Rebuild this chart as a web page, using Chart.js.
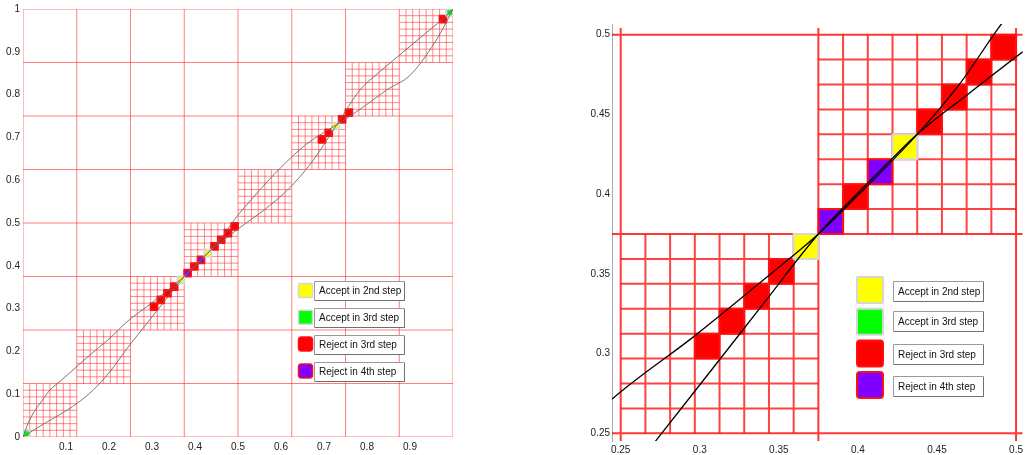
<!DOCTYPE html>
<html>
<head>
<meta charset="utf-8">
<script src="https://cdn.jsdelivr.net/npm/chart.js@4.4.1/dist/chart.umd.min.js"></script>
<style>
  html, body { margin: 0; padding: 0; background: #fff; overflow: hidden; width: 1026px; height: 455px; }
  #left  { position: absolute; left: 0;     top: 0; width: 460px; height: 455px; }
  #right { position: absolute; left: 560px; top: 0; width: 466px; height: 455px; }
</style>
</head>
<body>
<div id="left"><canvas id="overview"></canvas></div>
<div id="right"><canvas id="zoomed"></canvas></div>
<script>
// ---- subdivision of the unit square ----
const coarseLevels = [0, 0.125, 0.25, 0.375, 0.5, 0.625, 0.75, 0.875, 1];
const fineSteps = 8;          // every diagonal box is split 8 x 8
const fineStep = 1 / 64;      // size of one fine cell
const zoomBoxes = [0.25, 0.375]; // lower-left corners of the boxes refined in the zoom view

// ---- diagonal fine cells (index k covers [k/64, (k+1)/64]^2) ----
const accept2 = [23, 27, 46];
const accept3 = [0, 63];
const reject3 = [19, 20, 21, 22, 25, 28, 29, 30, 31, 44, 45, 47, 48, 62];
const reject4 = [24, 26];

// ---- the two curves ----
const curveAx = [0, 0.012, 0.024, 0.045, 0.063, 0.086, 0.109, 0.15, 0.2, 0.2444, 0.2974, 0.34, 0.375, 0.40, 0.42, 0.4375, 0.465, 0.491, 0.54, 0.598, 0.66, 0.73, 0.79, 0.846, 0.90, 0.95, 0.977, 1];
const curveAy = [0, 0.032, 0.056, 0.086, 0.110, 0.130, 0.150, 0.187, 0.229, 0.2714, 0.3116, 0.346, 0.375, 0.3993, 0.4193, 0.4375, 0.470, 0.507, 0.565, 0.628, 0.685, 0.73, 0.77, 0.811, 0.845, 0.91, 0.955, 1];
const curveBx = [0, 0.047, 0.085, 0.125, 0.1635, 0.2, 0.2444, 0.2724, 0.31, 0.34, 0.375, 0.40, 0.42, 0.4375, 0.47, 0.5047, 0.56, 0.615, 0.67, 0.73, 0.784, 0.83, 0.90, 0.95, 0.977, 1];
const curveBy = [0, 0.030, 0.052, 0.078, 0.110, 0.150, 0.210, 0.2456, 0.293, 0.331, 0.375, 0.4007, 0.4207, 0.4375, 0.463, 0.4896, 0.530, 0.577, 0.64, 0.73, 0.811, 0.8535, 0.913, 0.955, 0.977, 1];

// ---- tick labels ----
const overviewXTicks = [0.1, 0.2, 0.3, 0.4, 0.5, 0.6, 0.7, 0.8, 0.9];
const overviewYTicks = [0, 0.1, 0.2, 0.3, 0.4, 0.5, 0.6, 0.7, 0.8, 0.9, 1];
const zoomTicks = [0.25, 0.3, 0.35, 0.4, 0.45, 0.5];

// ---- legend ----
const legendLabels = ['Accept in 2nd step', 'Accept in 3rd step', 'Reject in 3rd step', 'Reject in 4th step'];

// ---- styles ----
const FONT = '"Liberation Sans", Arial, Helvetica, sans-serif';
const cellStyles = [
  { cells: accept2, fill: '#ffff00', edge: '#d6d6d6' },
  { cells: accept3, fill: '#00ff00', edge: '#d6d6d6' },
  { cells: reject3, fill: '#ff0000', edge: '#ff1010' },
  { cells: reject4, fill: '#8000ff', edge: '#ff1010' }
];
const ZOOM_X = [0.2445, 0.5042];
const ZOOM_Y = [0.2452, 0.5067];

const gap = { x: null, y: null };

function gridLines(levels, from, to) {
  const pts = [];
  levels.forEach(v => {
    pts.push({ x: v, y: from }, { x: v, y: to }, gap);
    pts.push({ x: from, y: v }, { x: to, y: v }, gap);
  });
  return pts;
}

function fineGrid(corners) {
  const size = fineStep * fineSteps;
  const pts = [];
  corners.forEach(b => {
    for (let j = 1; j < fineSteps; j++) {
      const v = b + j * fineStep;
      pts.push({ x: v, y: b }, { x: v, y: b + size }, gap);
      pts.push({ x: b, y: v }, { x: b + size, y: v }, gap);
    }
  });
  return pts;
}

function cellPolygon(k) {
  const a = k * fineStep, b = (k + 1) * fineStep;
  return [{ x: a, y: a }, { x: b, y: a }, { x: b, y: b }, { x: a, y: b }, { x: a, y: a }];
}

function zip(xs, ys) { return xs.map((x, i) => ({ x, y: ys[i] })); }

function lineSet(data, color, width, order) {
  return { type: 'scatter', showLine: true, data, borderColor: color, borderWidth: width,
           pointRadius: 0, fill: false, order, spanGaps: false };
}

function cellSets(width, range) {
  const sets = [];
  cellStyles.forEach(s => {
    s.cells.forEach(k => {
      const a = k * fineStep;
      if (range && (a < range[0] || a + fineStep > range[1])) return;
      sets.push({ type: 'scatter', showLine: true, data: cellPolygon(k), fill: 'shape',
                  backgroundColor: s.fill, borderColor: s.edge, borderWidth: width,
                  borderJoinStyle: 'round', pointRadius: 0, order: 1 });
    });
  });
  return sets;
}

function curveSets(color, width) {
  return [zip(curveAx, curveAy), zip(curveBx, curveBy)].map(d => ({
    type: 'scatter', showLine: true, data: d, borderColor: color, borderWidth: width,
    pointRadius: 0, fill: false, order: 0, cubicInterpolationMode: 'monotone'
  }));
}

// legend drawn as colour swatches next to framed labels
const boxLegend = {
  id: 'boxLegend',
  afterDraw(chart, args, o) {
    const ctx = chart.ctx;
    ctx.save();
    legendLabels.forEach((label, i) => {
      const style = cellStyles[i];
      const sy = o.swatchTop + i * o.swatchGap;
      ctx.lineJoin = 'round';
      ctx.fillStyle = style.fill;
      ctx.strokeStyle = style.edge;
      ctx.lineWidth = o.swatchEdge;
      ctx.beginPath();
      ctx.roundRect(o.swatchX, sy, o.swatchSize, o.swatchSize, i >= 2 ? o.swatchRadius : 1);
      ctx.fill();
      ctx.stroke();

      const by = o.boxTop[i];
      ctx.fillStyle = '#fff';
      ctx.fillRect(o.boxX, by, o.boxW, o.boxH);
      ctx.lineWidth = 1;
      ctx.strokeStyle = '#9a9a9a';
      ctx.strokeRect(o.boxX + 0.5, by + 0.5, o.boxW, o.boxH);
      ctx.strokeStyle = '#707070';
      ctx.beginPath();
      ctx.moveTo(o.boxX + o.boxW + 0.5, by + 1);
      ctx.lineTo(o.boxX + o.boxW + 0.5, by + o.boxH + 0.5);
      ctx.lineTo(o.boxX + 1, by + o.boxH + 0.5);
      ctx.stroke();

      ctx.fillStyle = '#111';
      ctx.font = '10px ' + FONT;
      ctx.textBaseline = 'middle';
      ctx.textAlign = 'left';
      ctx.fillText(label, o.boxX + 5, by + o.boxH / 2 + 1);
    });
    ctx.restore();
  }
};

function axis(min, max, ticks, fit, pad, isX, border) {
  return {
    type: 'linear', min, max,
    grid: { display: false, drawTicks: false, tickLength: 0 },
    border: border ? { display: true, color: '#a8a8a8', width: 1 } : { display: false },
    afterBuildTicks: s => { s.ticks = ticks.map(v => ({ value: v })); },
    afterFit: s => { if (isX) s.height = fit; else s.width = fit; },
    ticks: { font: { size: 10, family: FONT }, color: '#222', padding: pad,
             maxRotation: 0, autoSkip: false, callback: v => String(v) }
  };
}

Chart.defaults.animation = false;

new Chart(document.getElementById('overview'), {
  type: 'scatter',
  data: {
    datasets: [
      ...curveSets('#6a6a6a', 0.9),
      ...cellSets(2, null),
      lineSet(fineGrid(coarseLevels.slice(0, 8)), 'rgba(255,40,40,0.55)', 1, 2),
      lineSet(gridLines(coarseLevels, 0, 1), 'rgba(255,40,40,0.6)', 1, 3)
    ]
  },
  options: {
    responsive: true, maintainAspectRatio: false, devicePixelRatio: 1, events: [],
    layout: { padding: { left: 0, right: 7, top: 9, bottom: 0 } },
    scales: {
      x: axis(0, 1, overviewXTicks, 18, 4, true, false),
      y: axis(0, 1, overviewYTicks, 23, 3, false, false)
    },
    plugins: {
      legend: { display: false }, tooltip: { enabled: false },
      boxLegend: { swatchX: 298.5, swatchTop: 283.5, swatchGap: 26.8, swatchSize: 14, swatchEdge: 1.5, swatchRadius: 3,
                   boxX: 314, boxTop: [281, 308, 335, 362], boxW: 90, boxH: 19 }
    }
  },
  plugins: [boxLegend]
});

new Chart(document.getElementById('zoomed'), {
  type: 'scatter',
  data: {
    datasets: [
      ...curveSets('#000', 1.3),
      ...cellSets(2, ZOOM_X),
      lineSet(fineGrid(zoomBoxes), 'rgba(255,20,20,0.8)', 2, 2),
      lineSet(gridLines(coarseLevels.filter(v => v >= ZOOM_X[0] && v <= ZOOM_X[1]), ZOOM_X[0], ZOOM_X[1]), 'rgba(255,20,20,0.85)', 2, 3)
    ]
  },
  options: {
    responsive: true, maintainAspectRatio: false, devicePixelRatio: 1, events: [],
    layout: { padding: { left: 0, right: 0, top: 24, bottom: 0 } },
    scales: {
      x: axis(ZOOM_X[0], ZOOM_X[1], zoomTicks, 14, 3, true, false),
      y: axis(ZOOM_Y[0], ZOOM_Y[1], zoomTicks, 52, 2, false, true)
    },
    plugins: {
      legend: { display: false }, tooltip: { enabled: false },
      boxLegend: { swatchX: 297, swatchTop: 277, swatchGap: 31.7, swatchSize: 26, swatchEdge: 2, swatchRadius: 3,
                   boxX: 333, boxTop: [281, 311, 344, 376], boxW: 90, boxH: 20 }
    }
  },
  plugins: [boxLegend]
});
</script>
</body>
</html>
